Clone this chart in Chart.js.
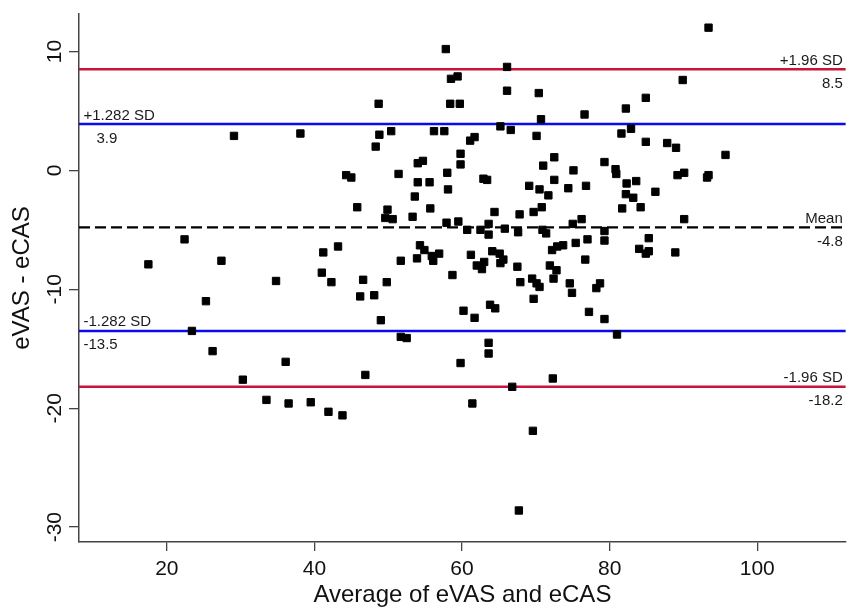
<!DOCTYPE html>
<html>
<head>
<meta charset="utf-8">
<script src="https://cdn.jsdelivr.net/npm/chart.js@4.4.1/dist/chart.umd.min.js"></script>
<style>
  html, body { margin: 0; padding: 0; background: #fff; }
  #chart { display: block; }
</style>
</head>
<body>
<canvas id="chart" width="852" height="610"></canvas>
<script>
// Tick labels
const xTicks = [20, 40, 60, 80, 100];
const yTicks = [-30, -20, -10, 0, 10];

// Bland-Altman points: average of the two scores (x) and their difference (y)
const avgVals = [
    17.5, 22.4, 23.4, 25.3, 26.2, 27.4, 29.1, 30.3, 33.5, 34.8,
    36.1, 36.5, 38.1, 39.5, 41.0, 41.2, 41.9, 42.3, 43.2, 43.8,
    44.3, 45.0, 45.8, 46.2, 46.6, 46.9, 48.1, 48.3, 48.7, 48.8,
    49.0, 49.6, 49.8, 49.9, 50.4, 50.6, 51.4, 51.7, 51.7, 52.5,
    53.3, 53.6, 53.9, 54.0, 54.0, 54.3, 54.9, 54.7, 55.6, 55.7,
    55.9, 56.1, 56.2, 56.9, 57.6, 57.8, 57.9, 58.0, 58.1, 58.4,
    58.5, 58.7, 59.4, 59.5, 59.7, 59.8, 59.8, 59.8, 60.2, 60.7,
    61.1, 61.2, 61.4, 61.7, 61.7, 62.0, 62.5, 62.7, 62.9, 63.0,
    63.4, 63.6, 63.6, 63.6, 63.6, 63.8, 64.1, 64.4, 64.5, 65.1,
    65.2, 65.2, 65.6, 65.8, 66.1, 66.1, 66.6, 66.8, 67.5, 67.6,
    67.7, 67.8, 67.9, 69.1, 69.5, 69.7, 69.6, 69.7, 70.1, 70.1,
    70.4, 70.5, 70.5, 70.7, 70.8, 70.9, 71.0, 71.4, 71.7, 71.9,
    72.2, 72.3, 72.4, 72.5, 72.5, 72.8, 72.9, 73.7, 74.4, 74.6,
    74.9, 75.0, 75.1, 75.4, 76.2, 76.6, 76.7, 76.8, 77.0, 77.2,
    78.2, 78.7, 79.3, 79.3, 79.3, 79.3, 80.8, 80.9, 81.0, 81.6,
    81.7, 82.2, 82.2, 82.3, 82.9, 83.2, 83.6, 84.0, 84.2, 84.9,
    84.9, 84.9, 85.3, 85.3, 86.2, 87.8, 89.0, 88.9, 89.2, 89.9,
    90.1, 90.1, 93.2, 93.4, 93.4, 95.7
];
const diffVals = [
    -7.9, -5.8, -13.5, -11.0, -15.2, -7.6, 2.9, -17.6, -19.3, -9.3,
    -16.1, -19.6, 3.1, -19.5, -8.6, -6.9, -20.3, -9.4, -6.4, -20.6,
    -0.4, -0.6, -3.1, -10.6, -9.2, -17.2, -10.5, 2.0, 5.6, 3.0,
    -12.6, -4.0, -9.4, -3.3, 3.3, -4.1, -0.3, -7.6, -14.0, -14.1,
    -3.9, -2.2, -7.4, 0.6, -1.0, -6.3, -6.7, 0.8, -1.0, -3.2,
    -7.2, -7.6, 3.3, -7.0, 3.3, 10.2, -4.4, -0.2, -1.6, 5.6,
    7.7, -8.8, 7.9, -4.3, 5.6, 1.4, 0.5, -16.2, -11.8, -5.0,
    2.5, -7.1, -19.6, 2.8, -12.4, -8.0, -5.0, -8.3, -0.7, -7.7,
    -0.8, -4.5, -5.4, -14.5, -15.4, -11.3, -6.8, -3.5, -11.6, -7.0,
    3.7, -7.8, -7.5, -4.9, 8.7, 6.7, 3.4, -18.2, -8.1, -5.2,
    -28.6, -3.7, -9.4, -1.3, -9.1, -10.8, -21.9, -3.5, 2.9, -9.5,
    6.5, -1.6, -9.8, 4.3, -3.1, -5.0, 0.4, -5.3, -2.1, -8.0,
    -6.7, -17.5, -9.1, 1.1, -0.8, -8.4, -6.4, -6.3, -1.5, -9.5,
    -10.3, -4.5, 0.0, -6.1, -4.1, 4.7, -7.5, -1.3, -5.8, -11.9,
    -9.9, -9.5, 0.7, -5.1, -5.9, -12.5, 0.1, -0.3, -13.8, 3.1,
    -3.2, 5.2, -2.0, -1.1, 3.5, -2.3, -0.9, -6.6, -3.1, 6.1,
    2.4, -7.0, -6.8, -5.7, -1.8, 2.3, 1.9, -6.9, -0.4, 7.6,
    -0.2, -4.1, -0.6, -0.4, 12.0, 1.3
];

// Limits of agreement and mean difference
const refNames = ['+1.96 SD', '+1.282 SD', 'Mean', '-1.282 SD', '-1.96 SD'];
const refValues = [8.5, 3.9, -4.8, -13.5, -18.2];
const refColors = ['#C8143C', '#0A0AF0', '#000000', '#0A0AF0', '#C8143C'];
const refSide = ['right', 'left', 'right', 'left', 'right'];

// Axis ranges
const xRange = [8.1, 112];
const yRange = [-31.25, 13.15];

const axisColor = '#444444';
Chart.defaults.font.family = '"Liberation Sans", Arial, sans-serif';
Chart.defaults.color = '#111111';

// Build the datasets: the scatter first so it is drawn on top of the lines
const points = avgVals.map(function (x, i) {
    return { x: x, y: diffVals[i] };
});

const datasets = [{
    data: points,
    pointStyle: 'rect',
    pointRadius: 5.2,
    backgroundColor: '#000000',
    borderColor: '#000000',
    borderWidth: 1,
    order: 0
}];

refValues.forEach(function (v, i) {
    datasets.push({
        data: [{ x: xRange[0], y: v }, { x: xRange[1], y: v }],
        showLine: true,
        borderColor: refColors[i],
        borderWidth: refNames[i] === 'Mean' ? 2.2 : 2.5,
        borderDash: refNames[i] === 'Mean' ? [11, 5] : [],
        pointRadius: 0,
        order: 1
    });
});

// Text above and below each reference line
const refLabels = {
    id: 'refLabels',
    afterDatasetsDraw(chart) {
        const ctx = chart.ctx;
        const area = chart.chartArea;
        const yScale = chart.scales.y;
        ctx.save();
        ctx.font = '15px "Liberation Sans", Arial, sans-serif';
        ctx.fillStyle = '#1a1a1a';
        ctx.textBaseline = 'alphabetic';
        refValues.forEach(function (v, i) {
            const py = yScale.getPixelForValue(v);
            const right = refSide[i] === 'right';
            const tx = right ? area.right - 3 : area.left + 4.5;
            ctx.textAlign = refSide[i];
            ctx.fillText(refNames[i], tx, py - 4.5);
            // the positive value on the left sits a little further in
            const vx = (!right && v > 0) ? tx + 13 : tx;
            ctx.fillText(v.toFixed(1), vx, py + 18.5);
        });
        ctx.restore();
    }
};

const chart = new Chart(document.getElementById('chart'), {
    type: 'scatter',
    data: { datasets: datasets },
    plugins: [refLabels],
    options: {
        responsive: false,
        animation: false,
        layout: { padding: { top: 14, right: 1, bottom: 0, left: 0 } },
        plugins: {
            legend: { display: false },
            tooltip: { enabled: false }
        },
        scales: {
            x: {
                type: 'linear',
                min: xRange[0],
                max: xRange[1],
                afterBuildTicks: function (axis) {
                    axis.ticks = xTicks.map(function (v) { return { value: v }; });
                },
                afterFit: function (axis) { axis.height = 68; },
                grid: { display: true, drawOnChartArea: false, drawTicks: true, tickLength: 9, color: axisColor, lineWidth: 1.3 },
                border: { display: true, color: axisColor, width: 1.5 },
                ticks: {
                    font: { size: 21 },
                    padding: 6,
                    maxRotation: 0,
                    callback: function (v) { return String(v); }
                },
                title: {
                    display: true,
                    text: 'Average of eVAS and eCAS',
                    font: { size: 24 },
                    padding: { top: 0, bottom: 0 }
                }
            },
            y: {
                type: 'linear',
                min: yRange[0],
                max: yRange[1],
                afterBuildTicks: function (axis) {
                    axis.ticks = yTicks.map(function (v) { return { value: v }; });
                },
                afterFit: function (axis) { axis.width = 79; },
                grid: { display: true, drawOnChartArea: false, drawTicks: true, tickLength: 10, color: axisColor, lineWidth: 1.3 },
                border: { display: true, color: axisColor, width: 1.5 },
                ticks: {
                    font: { size: 21 },
                    minRotation: 90,
                    maxRotation: 90,
                    crossAlign: 'center',
                    padding: -1,
                    callback: function (v) { return String(v); }
                },
                title: {
                    display: true,
                    text: 'eVAS - eCAS',
                    font: { size: 24 },
                    padding: { top: 8, bottom: 0 }
                }
            }
        }
    }
});
</script>
</body>
</html>
